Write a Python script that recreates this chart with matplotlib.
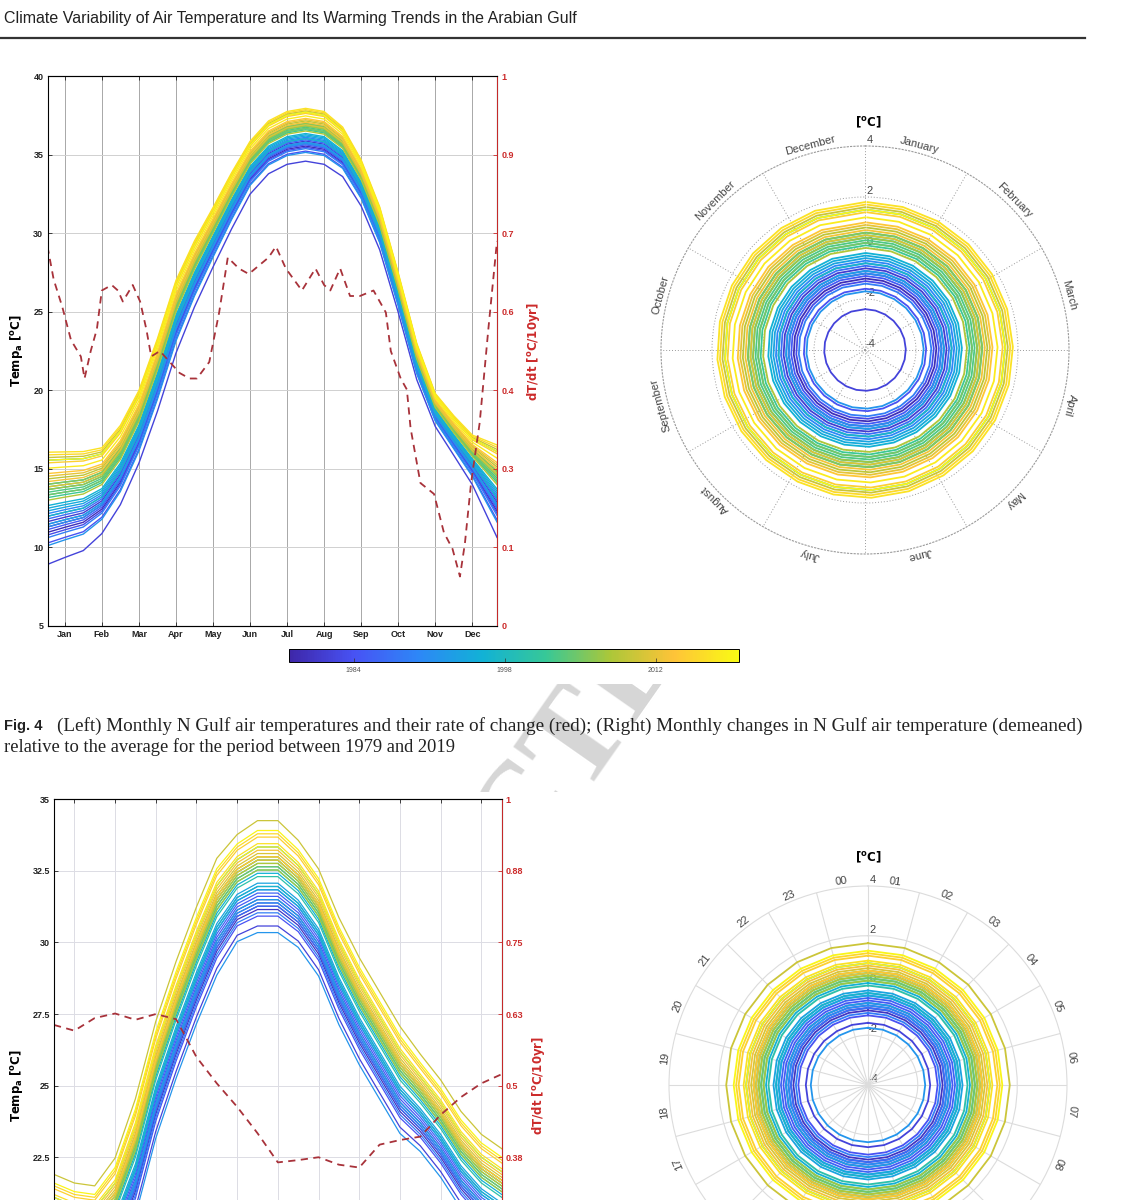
import numpy as np
import matplotlib
matplotlib.use("Agg")
import matplotlib.pyplot as plt
from matplotlib.colors import LinearSegmentedColormap, Normalize
from matplotlib.cm import ScalarMappable
from matplotlib.patches import Rectangle
from matplotlib.lines import Line2D
from matplotlib.transforms import offset_copy

plt.rcParams['font.family'] = ['Liberation Sans', 'DejaVu Sans']

# ---------------- data ----------------
years = list(range(1979, 2020))

# Fig. 4 (left): mean seasonal cycle of N Gulf air temperature, by day of year
clim_day = [1, 15, 30, 45, 60, 75, 90, 105, 120, 135, 150, 165, 180,
            195, 210, 225, 240, 255, 270, 285, 300, 315, 330, 345, 365]
clim_temp = [13.0, 13.2, 13.4, 14.0, 15.6, 18.0, 21.3, 25.0, 27.7, 30.0, 32.3, 34.4, 35.7,
             36.3, 36.5, 36.3, 35.4, 33.4, 30.5, 26.4, 22.0, 18.9, 17.3, 15.8, 14.0]
# how strongly a year's anomaly shows up at each point of the season
clim_spread = [1.7, 1.6, 1.5, 1.3, 1.2, 1.1, 1.1, 1.1, 1.0, 0.9, 0.85, 0.8, 0.8,
               0.8, 0.8, 0.8, 0.75, 0.7, 0.65, 0.6, 0.55, 0.5, 0.6, 0.75, 1.4]

# demeaned yearly anomaly (deg C), 1979..2019 - rings of the right polar panel
anom_month = [-1.2, -1.0, -0.8, -2.4, -1.3, -1.6, -1.1, -0.9, -0.7, -0.6,
              -1.4, -0.5, -1.0, -1.7, -0.9, -0.4, -0.3, -0.2, -0.6, 0.4,
              0.6, 0.2, 1.5, 0.1, 0.3, 0.5, 0.2, 0.6, 0.4, 0.0,
              0.8, 1.6, 0.5, 0.9, 0.7, 1.0, 1.4, 1.7, 1.8, 1.2, 1.5]

# red dashed curve: rate of change dT/dt [degC/10yr]
trend_day = [1, 6, 13, 20, 28, 31, 36, 41, 45, 53, 58, 62, 70, 76, 81, 85, 92, 100,
             108, 116, 122, 132, 140, 147, 156, 164, 180, 186, 194, 207, 218, 225,
             230, 238, 246, 254, 265, 275, 279, 287, 292, 295, 303, 314, 322, 329,
             335, 339, 344, 351, 358, 365]
trend_rate = [0.69, 0.63, 0.58, 0.52, 0.49, 0.45, 0.50, 0.54, 0.61, 0.62, 0.61, 0.59,
              0.62, 0.59, 0.54, 0.49, 0.50, 0.48, 0.46, 0.45, 0.45, 0.48, 0.57, 0.67,
              0.65, 0.64, 0.67, 0.69, 0.65, 0.61, 0.65, 0.62, 0.61, 0.65, 0.60, 0.60,
              0.61, 0.57, 0.50, 0.45, 0.43, 0.36, 0.26, 0.24, 0.17, 0.14, 0.09, 0.15,
              0.26, 0.37, 0.54, 0.70]

month_abbr = ['Jan', 'Feb', 'Mar', 'Apr', 'May', 'Jun', 'Jul', 'Aug', 'Sep', 'Oct', 'Nov', 'Dec']
month_full = ['January', 'February', 'March', 'April', 'May', 'June', 'July',
              'August', 'September', 'October', 'November', 'December']
month_tick_day = [15, 45, 75, 105, 135, 165, 195, 225, 255, 285, 315, 345]
temp_ticks = [5, 10, 15, 20, 25, 30, 35, 40]
rate_ticklabels = ['0', '0.1', '0.3', '0.4', '0.6', '0.7', '0.9', '1']

# lower figure: diurnal (hourly) cycle
hours = list(range(1, 24))
diurnal_temp = [20.2, 19.9, 19.8, 20.6, 22.5, 25.2, 27.3, 29.2, 30.9, 31.9, 32.3, 32.3,
                31.7, 30.7, 29.0, 27.6, 26.4, 25.2, 24.4, 23.5, 22.4, 21.6, 21.1]
diurnal_spread = [1.0, 1.0, 1.0, 1.1, 1.2, 1.2, 1.2, 1.2, 1.2, 1.1, 1.15, 1.15,
                  1.1, 1.1, 1.1, 1.1, 1.1, 1.1, 1.0, 1.0, 1.0, 1.0, 1.0]
anom_hour = [-0.9, -1.0, -0.7, -1.5, -0.8, -1.2, -0.6, -0.5, -0.9, -0.4,
             -1.1, -0.3, -0.8, -1.7, -0.7, -0.2, -0.4, 0.1, -0.3, 0.3,
             0.5, 0.0, 0.9, 0.2, 0.4, 0.6, 0.3, 0.5, 0.2, 0.4,
             0.6, 1.7, 0.7, 0.5, 0.8, 0.6, 1.2, 1.3, 1.0, 0.9, 1.4]
diurnal_rate = [0.606, 0.596, 0.618, 0.626, 0.615, 0.625, 0.616, 0.55, 0.504, 0.463,
                0.417, 0.366, 0.37, 0.375, 0.362, 0.357, 0.397, 0.405, 0.411, 0.449,
                0.48, 0.504, 0.52]
hour_ticks = [2, 4, 6, 8, 10, 12, 14, 16, 18, 20, 22]
temp2_ticks = [15, 17.5, 20, 22.5, 25, 27.5, 30, 32.5, 35]
temp2_ticklabels = ['15', '17.5', '20', '22.5', '25', '27.5', '30', '32.5', '35']
rate2_ticklabels = ['0', '0.13', '0.25', '0.38', '0.5', '0.63', '0.75', '0.88', '1']
hour_labels = ['%02d' % h for h in range(24)]

# ---------------- style ----------------
W, H = 1129, 1200
parula = LinearSegmentedColormap.from_list('parula_like', [
    (0.2422, 0.1504, 0.6603), (0.2810, 0.3228, 0.9579), (0.1786, 0.5289, 0.9682),
    (0.0689, 0.6948, 0.8394), (0.2161, 0.7843, 0.5923), (0.6720, 0.7793, 0.2227),
    (0.9970, 0.7659, 0.2199), (0.9769, 0.9839, 0.0805)])
norm = Normalize(1978.0, 2019.7)
RED = '#cc2b2b'
DASH = '#a8323a'

fig = plt.figure(figsize=(W / 100, H / 100), dpi=100)


def box(x0, y0, x1, y1):
    return [x0 / W, 1 - y1 / H, (x1 - x0) / W, (y1 - y0) / H]


def bold_ticks(ax):
    for lab in ax.get_xticklabels() + ax.get_yticklabels():
        lab.set_fontweight('bold')


# white page areas of the figure images (hide the watermark there)
for y0, y1 in [(45, 684), (792, 1200)]:
    fig.patches.append(Rectangle((0, 1 - y1 / H), 1, (y1 - y0) / H, transform=fig.transFigure,
                                 facecolor='white', edgecolor='none', zorder=-1))
fig.text(578 / W, 1 - 740 / H, 'CTE', rotation=55, fontsize=95, family='Liberation Serif',
         fontweight='bold', color='#d6d6d6', ha='center', va='center', zorder=-2)

# ---------------- top left: seasonal cycle ----------------
ax = fig.add_axes(box(47.5, 76, 497, 626))
for yr, a in zip(years, anom_month):
    t = [c + a * s for c, s in zip(clim_temp, clim_spread)]
    ax.plot(clim_day, t, color=parula(norm(yr)), lw=1.0)
ax.set_xlim(1, 365)
ax.set_ylim(5, 40)
ax.set_xticks(month_tick_day)
ax.set_xticklabels(month_abbr)
ax.set_yticks(temp_ticks)
ax.tick_params(direction='in', length=3, width=0.6, top=True, labelsize=6.5, pad=3, colors='#222')
bold_ticks(ax)
ax.xaxis.grid(True, color='#a8a8a8', lw=0.7)
ax.yaxis.grid(True, color='#d0d0d0', lw=0.7)
for side in ['top', 'bottom']:
    ax.spines[side].set_color('#555')
    ax.spines[side].set_linewidth(0.8)
ax.spines['left'].set_color('#c86464')
ax.spines['left'].set_linewidth(0.7)
ax.set_ylabel(r'$\mathbf{Temp_a\ [^oC]}$', fontsize=8.5)
ax.yaxis.set_label_coords(-0.05, 0.5)

ax2 = ax.twinx()
ax2.plot(trend_day, trend_rate, color=DASH, lw=1.3, dashes=(4, 3))
ax2.set_ylim(0, 1)
ax2.set_yticks([(t - 5) / 35 for t in temp_ticks])
ax2.set_yticklabels(rate_ticklabels)
ax2.tick_params(direction='in', length=3, width=0.6, labelsize=6.5, pad=3, colors=RED)
bold_ticks(ax2)
ax2.spines['right'].set_color(RED)
ax2.spines['right'].set_linewidth(0.7)
ax2.set_ylabel(r'$\mathbf{dT/dt\ [^oC/10yr]}$', fontsize=8.5, color=RED)
ax2.yaxis.set_label_coords(1.062, 0.5)

# colorbar
cax = fig.add_axes(box(289, 649, 739, 662))
cb = fig.colorbar(ScalarMappable(norm=norm, cmap=parula), cax=cax, orientation='horizontal')
cb.set_ticks([1984, 1998, 2012])
cax.tick_params(direction='in', length=3, width=0.5, labelsize=5, color='#333', labelcolor='#555')
cb.outline.set_linewidth(0.7)


def polar_frame(pax, spoke_step, dotted, label_r, labels, label_start, step, skip=()):
    pax.set_theta_zero_location('N')
    pax.set_theta_direction(-1)
    pax.set_rlim(-4, 4)
    pax.set_xticks(np.deg2rad(np.arange(0, 360, spoke_step)))
    pax.set_xticklabels([])
    pax.set_yticks([-2, 0, 2])
    pax.set_yticklabels([])
    if dotted:
        pax.grid(True, color='#9a9a9a', lw=0.7, ls=(0, (1, 2)))
        pax.spines['polar'].set_linestyle((0, (1, 2)))
        pax.spines['polar'].set_color('#9a9a9a')
    else:
        pax.grid(True, color='#dcdcdc', lw=0.8)
        pax.spines['polar'].set_color('#dcdcdc')
    pax.spines['polar'].set_linewidth(0.8)
    tr = offset_copy(pax.transData, fig=fig, x=5, y=1, units='dots')
    for r in [-4, -2, 0, 2, 4]:
        pax.text(0, r, str(r), transform=tr, ha='center', va='bottom',
                 fontsize=8, color='#444', zorder=1)
    for k, name in enumerate(labels):
        if k in skip:
            continue  # these lie below the page edge
        ang = label_start + step * k
        pax.text(np.deg2rad(ang), label_r, name, rotation=-ang, rotation_mode='anchor',
                 ha='center', va='center', fontsize=8, color='#444')


# ---------------- top right: monthly anomaly rings ----------------
pax = fig.add_axes(box(865 - 204, 350 - 204, 865 + 204, 350 + 204), projection='polar')
polar_frame(pax, 30, True, 4.3, month_full, 15, 30)
for yr, a in zip(years, anom_month):
    pax.plot(np.deg2rad([d / 365 * 360 for d in clim_day]), [a] * len(clim_day),
             color=parula(norm(yr)), lw=1.3, zorder=2)
fig.text(868 / W, 1 - 122 / H, r'$\mathbf{[^oC]}$', ha='center', va='center', fontsize=8.5)

# ---------------- bottom left: diurnal cycle ----------------
bx = fig.add_axes(box(54, 799.3, 501.7, 1372))
for yr, a in zip(years, anom_hour):
    t = [c + a * s for c, s in zip(diurnal_temp, diurnal_spread)]
    bx.plot(hours, t, color=parula(norm(yr)), lw=0.9)
bx.set_xlim(1, 23)
bx.set_ylim(15, 35)
bx.set_xticks(hour_ticks)
bx.set_xticklabels([])
bx.set_yticks(temp2_ticks)
# the three lowest ticks fall below the page edge
bx.set_yticklabels(['', '', ''] + temp2_ticklabels[3:])
bx.tick_params(direction='in', length=3, width=0.6, top=True, labelsize=6.5, pad=3, colors='#222')
bold_ticks(bx)
bx.grid(True, color='#dcdce4', lw=0.7)
bx.spines['top'].set_color('#555')
bx.spines['top'].set_linewidth(0.8)
bx.spines['left'].set_color('#c86464')
bx.spines['left'].set_linewidth(0.7)
bx.set_ylabel(r'$\mathbf{Temp_a\ [^oC]}$', fontsize=8.5)
bx.yaxis.set_label_coords(-0.065, 0.5)

bx2 = bx.twinx()
bx2.plot(hours, diurnal_rate, color=DASH, lw=1.3, dashes=(4, 3))
bx2.set_ylim(0, 1)
bx2.set_yticks([(t - 15) / 20 for t in temp2_ticks])
bx2.set_yticklabels(['', '', ''] + rate2_ticklabels[3:])
bx2.tick_params(direction='in', length=3, width=0.6, labelsize=6.5, pad=3, colors=RED)
bold_ticks(bx2)
bx2.spines['right'].set_color(RED)
bx2.spines['right'].set_linewidth(0.7)
bx2.set_ylabel(r'$\mathbf{dT/dt\ [^oC/10yr]}$', fontsize=8.5, color=RED)
bx2.yaxis.set_label_coords(1.063, 0.5)

# ---------------- bottom right: hourly anomaly rings ----------------
qax = fig.add_axes(box(868 - 199, 1085 - 199, 868 + 199, 1085 + 199), projection='polar')
polar_frame(qax, 15, False, 4.25, hour_labels, -7.5, 15, skip=range(9, 17))
for yr, a in zip(years, anom_hour):
    qax.plot(np.deg2rad([h * 15 for h in range(25)]), [a] * 25,
             color=parula(norm(yr)), lw=1.3, zorder=2)
fig.text(868 / W, 1 - 857 / H, r'$\mathbf{[^oC]}$', ha='center', va='center', fontsize=8.5)

# ---------------- page furniture ----------------
renderer = fig.canvas.get_renderer()


def fit(t, width_px):
    bb = t.get_window_extent(renderer=renderer)
    t.set_fontsize(t.get_fontsize() * width_px / bb.width)


head = fig.text(4 / W, 1 - 19 / H, 'Climate Variability of Air Temperature and Its Warming Trends in the Arabian Gulf',
                family=['Liberation Sans Narrow', 'Liberation Sans'], fontsize=12, color='#222',
                ha='left', va='center')
fit(head, 573)
fig.add_artist(Line2D([0, 1085 / W], [1 - 38 / H, 1 - 38 / H], color='#333', lw=1.6,
                      transform=fig.transFigure))

fig.text(4 / W, 1 - 726 / H, 'Fig. 4', fontweight='bold', fontsize=10.5, color='#222',
         ha='left', va='center')
cap1 = fig.text(57 / W, 1 - 726 / H,
                '(Left) Monthly N Gulf air temperatures and their rate of change (red); '
                '(Right) Monthly changes in N Gulf air temperature (demeaned)',
                family='Liberation Serif', fontsize=12, color='#222', ha='left', va='center')
fit(cap1, 1026)
cap2 = fig.text(4 / W, 1 - 747 / H, 'relative to the average for the period between 1979 and 2019',
                family='Liberation Serif', fontsize=12, color='#222', ha='left', va='center')
fit(cap2, 449)

fig.savefig('out.png', dpi=100)
